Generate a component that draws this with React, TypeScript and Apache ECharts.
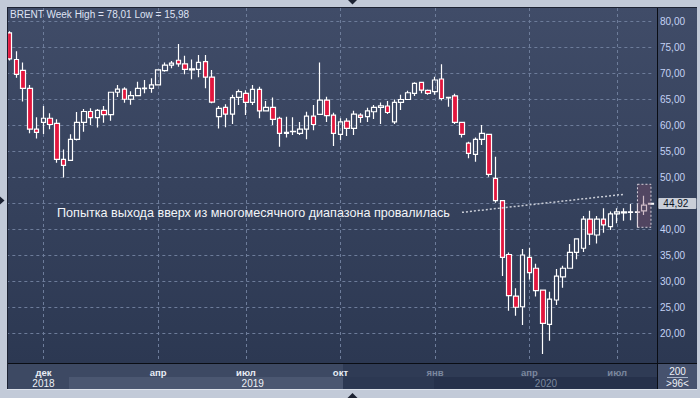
import React, { useEffect, useRef } from 'react';
import * as echarts from 'echarts';

// Weekly BRENT candles: open, close, low, high
const opens = [77.7, 72.6, 70.5, 67.06, 59.2, 60.5, 61.3, 60.3, 53.4, 53.2, 57.25, 60.5, 62.6, 61.4, 62.8, 62.0, 66.3, 66.9, 64.95, 65.65, 67.0, 67.05, 67.7, 70.45, 71.5, 72.45, 71.75, 70.6, 70.7, 72.2, 69.2, 61.6, 63.4, 62.1, 65.3, 66.1, 64.35, 66.85, 62.7, 63.4, 61.3, 58.4, 58.7, 58.4, 59.2, 61.7, 62.05, 64.8, 61.9, 58.2, 60.75, 59.35, 61.9, 61.6, 62.55, 63.4, 63.65, 60.6, 64.35, 64.9, 66.1, 68.2, 66.65, 66.4, 68.85, 65.2, 65.6, 60.5, 56.5, 54.35, 57.25, 58.2, 49.75, 45.45, 35.1, 27.1, 25.05, 34.55, 32.45, 28.25, 21.65, 26.35, 30.8, 32.45, 35.5, 36.3, 41.9, 38.85, 41.9, 40.45, 42.9, 43.1, 43.2, 43.3, 43.5, 44.8];
const closes = [72.7, 69.75, 67.06, 59.2, 58.6, 61.3, 60.1, 53.4, 52.25, 57.25, 60.5, 62.6, 61.4, 62.8, 62.0, 66.3, 66.9, 64.95, 65.65, 67.05, 67.1, 67.7, 70.6, 71.5, 71.9, 71.75, 70.7, 70.8, 72.05, 69.2, 64.4, 63.2, 62.1, 65.25, 66.4, 64.35, 66.85, 62.7, 63.4, 61.1, 58.4, 58.6, 58.8, 59.2, 61.7, 60.1, 64.8, 61.8, 58.4, 60.6, 59.35, 62.1, 61.45, 62.7, 63.4, 63.7, 62.4, 64.35, 64.9, 66.2, 68.0, 66.7, 66.1, 68.65, 65.1, 65.3, 60.5, 58.2, 54.55, 57.25, 58.4, 50.5, 45.45, 34.55, 27.2, 24.95, 35.0, 31.6, 28.15, 21.85, 26.5, 30.95, 32.45, 35.5, 38.1, 41.9, 39.0, 41.9, 40.8, 42.9, 43.3, 43.3, 43.3, 43.2, 44.6, 44.92];
const lows = [72.4, 69.1, 64.5, 58.4, 57.4, 58.27, 59.2, 52.75, 49.9, 53.1, 57.0, 58.7, 60.0, 59.5, 60.45, 60.8, 65.4, 64.3, 63.9, 65.6, 66.1, 66.2, 67.7, 70.25, 70.9, 71.2, 69.75, 68.8, 69.2, 67.05, 64.2, 59.35, 59.55, 60.2, 63.85, 61.9, 63.85, 61.3, 62.7, 60.0, 55.8, 57.6, 58.1, 58.1, 57.25, 59.0, 62.0, 60.6, 55.95, 57.1, 57.9, 58.1, 60.45, 60.6, 61.15, 60.2, 62.1, 60.2, 62.9, 64.8, 65.6, 66.1, 65.8, 65.8, 64.7, 63.5, 60.2, 57.6, 53.6, 52.95, 56.15, 50.05, 45.05, 30.95, 24.3, 23.3, 21.55, 30.3, 27.0, 15.98, 18.5, 25.4, 28.7, 32.4, 34.2, 35.6, 36.9, 37.2, 39.3, 39.8, 41.1, 41.6, 41.7, 40.3, 42.7, 44.7];
const highs = [78.01, 74.2, 72.0, 67.7, 61.5, 63.65, 62.25, 61.1, 55.3, 58.2, 62.5, 63.1, 63.2, 63.1, 63.65, 66.3, 67.7, 67.25, 66.5, 68.3, 68.65, 69.0, 70.6, 72.0, 72.3, 75.6, 73.3, 72.6, 73.45, 73.45, 70.6, 63.65, 64.0, 65.8, 66.85, 66.7, 67.7, 67.35, 64.6, 65.3, 61.6, 61.6, 61.5, 60.6, 62.55, 63.85, 72.0, 65.45, 62.35, 61.3, 61.3, 62.75, 62.25, 63.3, 63.85, 64.35, 64.6, 64.9, 65.8, 66.6, 68.2, 68.3, 66.85, 69.3, 71.7, 65.4, 66.0, 60.5, 56.8, 57.6, 60.0, 58.2, 53.9, 45.45, 35.5, 28.6, 36.15, 36.4, 33.3, 28.25, 27.95, 32.3, 32.95, 37.1, 38.2, 42.5, 43.5, 42.5, 44.0, 43.35, 44.0, 44.0, 44.8, 44.8, 46.4, 45.0];

const firstWeekUTC = Date.UTC(2018, 9, 29);
const categories = opens.map((_, i) =>
  new Date(firstWeekUTC + i * 7 * 86400000).toISOString().slice(0, 10)
);

// Time axis tick labels (category indices where they sit)
const monthTickIdx = [5, 22, 35, 49, 63, 77, 90];
const monthTickLabels = ['дек', 'апр', 'июл', 'окт', 'янв', 'апр', 'июл'];
const yearTickIdx = [5, 36, 79];
const yearTickLabels = ['2018', '2019', '2020'];
const dimFromIdx = 50;

// Annotation
const noteText = 'Попытка выхода вверх из многомесячного диапазона провалилась';
const trendFrom = [67, 43.2];
const trendTo = [91, 46.67];
const boxFrom = [93, 48.6];
const boxTo = [95, 40.33];

const FONT = '"Liberation Sans", Arial, sans-serif';
const fmt = (v: number) => v.toFixed(2).replace('.', ',');

export default function App() {
  const ref = useRef<HTMLDivElement>(null);

  useEffect(() => {
    if (!ref.current) return;
    const chart = echarts.init(ref.current, null, { renderer: 'svg' });
    const candles = opens.map((o, i) => [o, closes[i], lows[i], highs[i]]);
    const hi = Math.max(...highs);
    const lo = Math.min(...lows);
    const last = closes[closes.length - 1];
    const outer = '#c2cad8';
    const gridColor = '#6d7c9a';

    const option: any = {
      animation: false,
      grid: { left: 6.33, right: 45.67, top: 8, bottom: 39 },
      xAxis: [
        {
          type: 'category',
          data: categories,
          boundaryGap: true,
          offset: 4,
          axisLine: { show: false },
          axisTick: { show: false },
          splitLine: { show: false },
          axisLabel: {
            interval: (i: number) => monthTickIdx.includes(i),
            margin: 4,
            formatter: (_v: string, i: number) => {
              const k = monthTickIdx.indexOf(i);
              if (k < 0) return '';
              return (i >= dimFromIdx ? '{g|' : '{w|') + monthTickLabels[k] + '}';
            },
            rich: {
              w: { color: '#e8ecf4', fontSize: 9.5, fontFamily: FONT, fontWeight: 'bold' },
              g: { color: '#7b879e', fontSize: 9.5, fontFamily: FONT, fontWeight: 'bold' },
            },
          },
        },
        {
          type: 'category',
          data: categories,
          gridIndex: 0,
          position: 'bottom',
          boundaryGap: true,
          offset: 4,
          axisLine: { show: false },
          axisTick: { show: false },
          splitLine: { show: false },
          axisLabel: {
            interval: (i: number) => yearTickIdx.includes(i),
            margin: 15,
            formatter: (_v: string, i: number) => {
              const k = yearTickIdx.indexOf(i);
              if (k < 0) return '';
              return (i >= dimFromIdx ? '{g|' : '{w|') + yearTickLabels[k] + '}';
            },
            rich: {
              w: { color: '#eef1f6', fontSize: 10, fontFamily: FONT },
              g: { color: '#7b879e', fontSize: 10, fontFamily: FONT, padding: [0, 0, 0, 6] },
            },
          },
        },
      ],
      yAxis: {
        type: 'value',
        position: 'right',
        min: 15,
        max: 82.5,
        interval: 5,
        offset: 2.67,
        axisLine: { show: false },
        axisTick: { show: false },
        splitLine: {
          show: true,
          showMinLine: false,
          showMaxLine: false,
          lineStyle: { color: gridColor, type: [3, 3], width: 1 },
        },
        axisLabel: {
          margin: 3,
          color: '#c4d2f4',
          fontSize: 10,
          fontFamily: FONT,
          formatter: (v: number) =>
            v >= 20 && v <= 80 && v % 5 === 0 && Math.abs(v - last) > 1.5 ? fmt(v) : '',
        },
      },
      series: [
        {
          type: 'line',
          data: [],
          silent: true,
          z: 1,
          markLine: {
            silent: true,
            symbol: 'none',
            z: 1,
            label: { show: false },
            lineStyle: { color: gridColor, type: [3, 3], width: 1 },
            data: monthTickIdx.map((i) => ({ xAxis: i })),
          },
        },
        {
          type: 'candlestick',
          data: candles,
          barWidth: 5,
          z: 2,
          itemStyle: {
            color: 'rgba(0,0,0,0)',
            color0: '#e2163d',
            borderColor: '#ffffff',
            borderColor0: '#ffffff',
            borderWidth: 1.2,
          },
          markArea: {
            silent: true,
            z: 10,
            itemStyle: {
              color: 'rgba(128,78,108,0.38)',
              borderColor: '#d9d2dc',
              borderWidth: 1,
              borderType: [2, 2],
            },
            data: [[{ xAxis: boxFrom[0], yAxis: boxFrom[1] }, { xAxis: boxTo[0], yAxis: boxTo[1] }]],
          },
          markLine: {
            silent: true,
            symbol: 'none',
            z: 12,
            data: [
              {
                yAxis: last,
                lineStyle: { color: 'rgba(0,0,0,0)', width: 1, opacity: 1 },
                label: {
                  show: true,
                  position: 'end',
                  distance: 4,
                  opacity: 1,
                  formatter: fmt(last),
                  backgroundColor: '#c9ced8',
                  color: '#0c1424',
                  fontSize: 10,
                  fontFamily: FONT,
                  padding: [1, 8, 0, 5],
                  borderRadius: 1,
                },
              },
              [
                {
                  coord: trendFrom,
                  lineStyle: { color: '#c9cdd7', type: [2, 2], width: 1.5 },
                  label: { show: false },
                },
                { coord: trendTo },
              ],
            ],
          },
        },
      ],
      graphic: {
        elements: [
          {
            type: 'rect',
            silent: true,
            z: -10,
            shape: { x: 7, y: 7, width: 690, height: 356 },
            style: {
              fill: new echarts.graphic.LinearGradient(0, 0, 0, 1, [
                { offset: 0, color: '#404c68' },
                { offset: 1, color: '#2c3852' },
              ]),
            },
          },
          { type: 'rect', silent: true, z: -10, shape: { x: 7, y: 363, width: 336, height: 26 }, style: { fill: '#3d4963' } },
          { type: 'rect', silent: true, z: -9, shape: { x: 69, y: 377, width: 274, height: 12 }, style: { fill: '#4b5771' } },
          { type: 'rect', silent: true, z: -10, shape: { x: 343, y: 363, width: 314, height: 26 }, style: { fill: '#2f3b55' } },
          { type: 'rect', silent: true, z: -9, shape: { x: 343, y: 377, width: 91, height: 12 }, style: { fill: '#2c3852' } },
          { type: 'rect', silent: true, z: -9, shape: { x: 434, y: 377, width: 223, height: 12 }, style: { fill: '#26314b' } },
          { type: 'rect', silent: true, z: -10, shape: { x: 657, y: 363, width: 40, height: 26 }, style: { fill: '#46526e' } },
          // frame covers
          { type: 'rect', silent: true, z: 100, shape: { x: 0, y: 0, width: 7, height: 398 }, style: { fill: outer } },
          { type: 'rect', silent: true, z: 100, shape: { x: 0, y: 0, width: 700, height: 7 }, style: { fill: outer } },
          { type: 'rect', silent: true, z: 100, shape: { x: 697, y: 0, width: 3, height: 398 }, style: { fill: outer } },
          { type: 'rect', silent: true, z: 100, shape: { x: 0, y: 389, width: 700, height: 9 }, style: { fill: outer } },
          { type: 'line', silent: true, z: 101, shape: { x1: 7.5, y1: 7, x2: 7.5, y2: 389 }, style: { stroke: '#1c2232', lineWidth: 1 } },
          { type: 'line', silent: true, z: 101, shape: { x1: 7, y1: 7.5, x2: 697, y2: 7.5 }, style: { stroke: '#1c2232', lineWidth: 1 } },
          { type: 'line', silent: true, z: 101, shape: { x1: 7, y1: 389.5, x2: 697, y2: 389.5 }, style: { stroke: '#dde2ea', lineWidth: 1 } },
          { type: 'line', silent: true, z: 50, shape: { x1: 7, y1: 363.5, x2: 697, y2: 363.5 }, style: { stroke: '#0a0d14', lineWidth: 1 } },
          { type: 'line', silent: true, z: 50, shape: { x1: 657.5, y1: 7, x2: 657.5, y2: 389 }, style: { stroke: '#0a0d14', lineWidth: 1 } },
          // small navigation triangles
          { type: 'polygon', silent: true, z: 102, shape: { points: [[348, 0], [357, 0], [352.5, 4.5]] }, style: { fill: '#1c2232' } },
          { type: 'polygon', silent: true, z: 102, shape: { points: [[347.5, 398], [357.5, 398], [352.5, 393]] }, style: { fill: '#1c2232' } },
          { type: 'polygon', silent: true, z: 102, shape: { points: [[0, 196.5], [4.5, 200.5], [0, 204.5]] }, style: { fill: '#1c2232' } },
          // texts
          {
            type: 'text',
            silent: true,
            z: 60,
            x: 10,
            y: 14.5,
            style: {
              text: `BRENT Week High = ${fmt(hi)} Low = ${fmt(lo)}`,
              fill: '#dfe3f4',
              font: `10px ${FONT}`,
              verticalAlign: 'middle',
            },
          },
          {
            type: 'text',
            silent: true,
            z: 60,
            x: 57,
            y: 213,
            style: { text: noteText, fill: '#f2f4f8', font: `12.6px ${FONT}`, verticalAlign: 'middle' },
          },
          {
            type: 'text',
            silent: true,
            z: 60,
            x: 677.5,
            y: 371,
            style: { text: '200', fill: '#eef1f7', font: `10px ${FONT}`, align: 'center', verticalAlign: 'middle' },
          },
          { type: 'line', silent: true, z: 60, shape: { x1: 667, y1: 377.5, x2: 688, y2: 377.5 }, style: { stroke: '#aab4c8', lineWidth: 1 } },
          {
            type: 'text',
            silent: true,
            z: 60,
            x: 677.5,
            y: 383.5,
            style: { text: '>96<', fill: '#eef1f7', font: `10px ${FONT}`, align: 'center', verticalAlign: 'middle' },
          },
        ],
      },
    };

    chart.setOption(option);
    return () => chart.dispose();
  }, []);

  return (
    <div
      ref={ref}
      style={{ position: 'fixed', left: 0, top: 0, width: 700, height: 398, background: '#c2cad8' }}
    />
  );
}
